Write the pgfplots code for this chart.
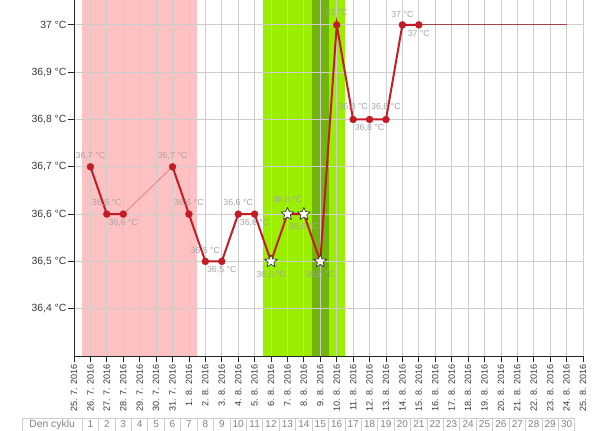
\documentclass[border=0pt]{standalone}
\usepackage{pgfplots}
\pgfplotsset{compat=1.18}
\usepackage{pgfplotstable}
\usepackage{fontspec}
\setmainfont{Liberation Sans}
\usetikzlibrary{plotmarks}
\definecolor{linered}{RGB}{196,28,36}
\definecolor{pinkband}{RGB}{255,193,193}
\definecolor{greenband}{RGB}{155,238,0}
\definecolor{dgreenband}{RGB}{112,180,12}
\definecolor{lblgray}{RGB}{165,165,165}
\definecolor{tickgray}{RGB}{55,55,55}
\definecolor{gridgray}{RGB}{205,205,205}
\definecolor{tabgray}{RGB}{130,130,130}

\newdimen\starin
\pgfdeclareplotmark{fstar}{%
  \starin=0.45\pgfplotmarksize
  \pgfpathmoveto{\pgfqpointpolar{90}{\pgfplotmarksize}}%
  \pgfpathlineto{\pgfqpointpolar{126}{\starin}}%
  \pgfpathlineto{\pgfqpointpolar{162}{\pgfplotmarksize}}%
  \pgfpathlineto{\pgfqpointpolar{198}{\starin}}%
  \pgfpathlineto{\pgfqpointpolar{234}{\pgfplotmarksize}}%
  \pgfpathlineto{\pgfqpointpolar{270}{\starin}}%
  \pgfpathlineto{\pgfqpointpolar{306}{\pgfplotmarksize}}%
  \pgfpathlineto{\pgfqpointpolar{342}{\starin}}%
  \pgfpathlineto{\pgfqpointpolar{18}{\pgfplotmarksize}}%
  \pgfpathlineto{\pgfqpointpolar{54}{\starin}}%
  \pgfpathclose
  \pgfusepathqfillstroke
}

\pgfplotstableread{
x y dy
1 36.7 8
2 36.6 8
3 36.6 -6.5
6 36.7 8
7 36.6 8
8 36.5 8
9 36.5 -6.5
10 36.6 8
11 36.6 -6.5
12 36.5 -10.5
13 36.6 10.5
14 36.6 -10
15 36.5 -10.5
16 37.0 9
17 36.8 9
18 36.8 -6.5
19 36.8 9
20 37.0 8
21 37.0 -6.5
}\temps

\pgfplotstableread{
x y
1 36.7
2 36.6
3 36.6
}\tempsA

\pgfplotstableread{
x y
6 36.7
7 36.6
8 36.5
9 36.5
10 36.6
11 36.6
12 36.5
13 36.6
14 36.6
15 36.5
16 37.0
17 36.8
18 36.8
19 36.8
20 37.0
21 37.0
}\tempsB

\pgfplotstableread{
x y
12 36.5
13 36.6
14 36.6
15 36.5
}\stars

\begin{document}
\begin{tikzpicture}
\pgfplotsset{set layers}
\begin{axis}[
  at={(0,0)}, anchor=south west,
  scale only axis, width=381.75pt, height=267pt,
  xmin=0, xmax=31, ymin=36.3, ymax=37.0526,
  axis x line*=bottom, axis y line*=left,
  axis line style={-, black!85, line width=0.7pt},
  xtick={0,...,31},
  xticklabels={25. 7. 2016, 26. 7. 2016, 27. 7. 2016, 28. 7. 2016, 29. 7. 2016, 30. 7. 2016, 31. 7. 2016, 1. 8. 2016, 2. 8. 2016, 3. 8. 2016, 4. 8. 2016, 5. 8. 2016, 6. 8. 2016, 7. 8. 2016, 8. 8. 2016, 9. 8. 2016, 10. 8. 2016, 11. 8. 2016, 12. 8. 2016, 13. 8. 2016, 14. 8. 2016, 15. 8. 2016, 16. 8. 2016, 17. 8. 2016, 18. 8. 2016, 19. 8. 2016, 20. 8. 2016, 21. 8. 2016, 22. 8. 2016, 23. 8. 2016, 24. 8. 2016, 25. 8. 2016},
  xticklabel style={rotate=90, anchor=east, font=\fontsize{6.8}{7}\selectfont, text=tickgray, inner sep=1.5pt},
  ytick={36.4,36.5,36.6,36.7,36.8,36.9,37},
  /pgf/number format/assume math mode=true,
  yticklabel={\pgfmathprintnumber[fixed,precision=1,use comma]{\tick}~°C},
  yticklabel style={font=\fontsize{7.8}{8}\selectfont, text=tickgray, inner sep=1pt},
  tick align=outside, major tick length=4.5pt,
  tick style={black!85, line width=0.6pt},
  grid=major, major grid style={gridgray, line width=0.6pt},
  clip=false,
]
% background bands
\addplot[draw=none, fill=pinkband, on layer=axis background] coordinates {(0.5,36.3) (7.5,36.3) (7.5,37.0526) (0.5,37.0526)} -- cycle;
\addplot[draw=none, fill=greenband, on layer=axis background] coordinates {(11.5,36.3) (16.5,36.3) (16.5,37.0526) (11.5,37.0526)} -- cycle;
\addplot[draw=none, fill=dgreenband, on layer=axis background] coordinates {(14.5,36.3) (15.5,36.3) (15.5,37.0526) (14.5,37.0526)} -- cycle;
% thin connector lines
\addplot[linered!55, line width=0.6pt, mark=none] coordinates {(3,36.6) (6,36.7)};
\addplot[linered!60!gray, line width=0.7pt, mark=none] coordinates {(21,37.0) (30,37.0)};
% main series
\addplot[linered, line width=1.5pt, mark=*, mark size=2.6pt, mark options={fill=linered, draw=linered, line width=0.3pt}] table[x=x,y=y] {\tempsA};
\addplot[linered, line width=1.5pt, mark=*, mark size=2.6pt, mark options={fill=linered, draw=linered, line width=0.3pt}] table[x=x,y=y] {\tempsB};
\addplot[only marks, mark=fstar, mark size=5pt, mark options={fill=white, draw=black!80, line width=0.5pt, line join=round}] table[x=x,y=y] {\stars};
% value labels
\addplot[draw=none, mark=none,
  visualization depends on={\thisrow{dy} \as \ldy},
  nodes near coords={\pgfmathprintnumber[fixed,precision=1,use comma]{\pgfplotspointmeta}~°C},
  every node near coord/.append style={anchor=center, yshift=\ldy pt, font=\fontsize{6.6}{7}\selectfont, text=lblgray, inner sep=0pt},
] table[x=x,y=y] {\temps};
\end{axis}
% cycle-day table
\begin{scope}[x=0.75pt,y=0.75pt]
\draw[gridgray, line width=0.6pt] (-52,-62) -- (500.8,-62);
\draw[gridgray, line width=0.6pt] (-52,-62) -- (-52,-80);
\foreach \i in {0,...,30} {\draw[gridgray, line width=0.6pt] ({(\i+0.5)*16.42},-62) -- ({(\i+0.5)*16.42},-80);}
\node[font=\fontsize{7.8}{8}\selectfont, text=tabgray] at ({(-52+8.21)/2},-68.5) {Den cyklu};
\foreach \i in {1,...,30} {\node[font=\fontsize{7.5}{8}\selectfont, text=tabgray] at ({\i*16.42},-68.5) {\i};}
\end{scope}
\pgfresetboundingbox
\path[use as bounding box] (-55.5pt,-55.5pt) rectangle (394.5pt,267pt);
\end{tikzpicture}
\end{document}
